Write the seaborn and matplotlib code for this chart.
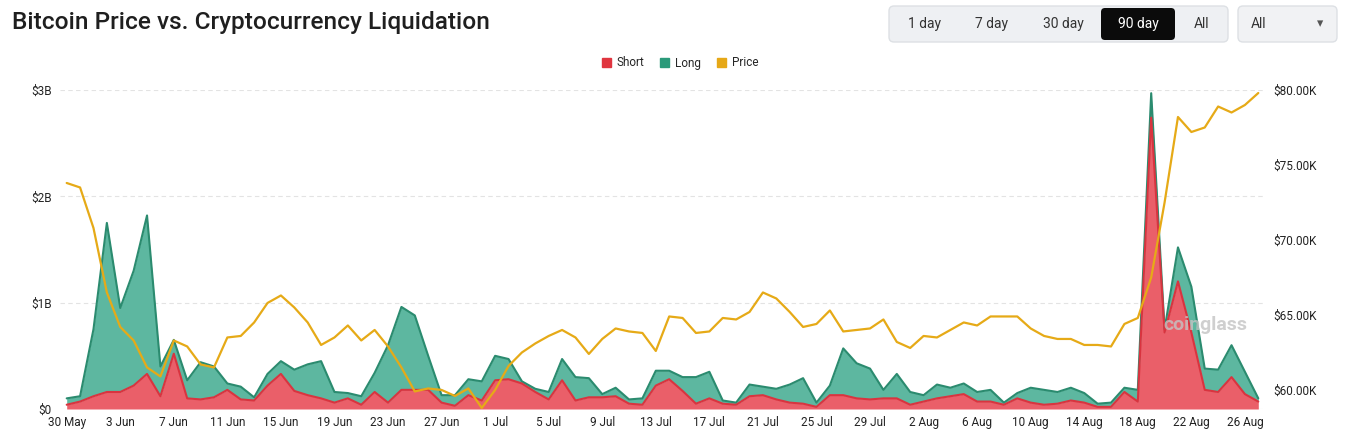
import numpy as np
import pandas as pd
import seaborn as sns
import matplotlib.pyplot as plt
from matplotlib.patches import FancyBboxPatch, Patch
from matplotlib.transforms import IdentityTransform

# daily values, 30 May -> 27 Aug
short_b = [0.04, 0.07, 0.12, 0.16, 0.16, 0.22, 0.33, 0.12, 0.52, 0.10,
           0.09, 0.11, 0.18, 0.09, 0.08, 0.22, 0.33, 0.17, 0.13, 0.10,
           0.06, 0.10, 0.04, 0.16, 0.06, 0.18, 0.18, 0.18, 0.06, 0.03,
           0.13, 0.08, 0.27, 0.28, 0.24, 0.16, 0.09, 0.27, 0.08, 0.11,
           0.11, 0.12, 0.05, 0.04, 0.22, 0.28, 0.17, 0.05, 0.10, 0.05,
           0.04, 0.12, 0.13, 0.09, 0.06, 0.05, 0.02, 0.13, 0.13, 0.10,
           0.09, 0.10, 0.10, 0.04, 0.07, 0.10, 0.12, 0.14, 0.07, 0.07,
           0.04, 0.10, 0.06, 0.04, 0.05, 0.08, 0.06, 0.02, 0.02, 0.16,
           0.07, 2.74, 0.72, 1.20, 0.72, 0.18, 0.16, 0.30, 0.14, 0.07]
long_b = [0.06, 0.05, 0.63, 1.59, 0.79, 1.08, 1.49, 0.28, 0.13, 0.17,
          0.35, 0.29, 0.06, 0.12, 0.03, 0.11, 0.12, 0.20, 0.29, 0.35,
          0.10, 0.05, 0.08, 0.18, 0.54, 0.78, 0.70, 0.32, 0.07, 0.10,
          0.15, 0.18, 0.23, 0.19, 0.02, 0.03, 0.07, 0.20, 0.22, 0.18,
          0.03, 0.08, 0.04, 0.06, 0.14, 0.08, 0.13, 0.25, 0.25, 0.03,
          0.02, 0.11, 0.08, 0.10, 0.17, 0.24, 0.04, 0.09, 0.44, 0.33,
          0.29, 0.08, 0.23, 0.12, 0.06, 0.13, 0.08, 0.10, 0.09, 0.11,
          0.02, 0.05, 0.14, 0.14, 0.11, 0.12, 0.09, 0.03, 0.04, 0.04,
          0.11, 0.23, 0.03, 0.32, 0.43, 0.20, 0.21, 0.30, 0.21, 0.03]
price_k = [73.8, 73.5, 70.8, 66.5, 64.2, 63.3, 61.5, 60.9, 63.3, 62.9,
           61.7, 61.5, 63.5, 63.6, 64.5, 65.8, 66.3, 65.5, 64.5, 63.0,
           63.5, 64.3, 63.3, 64.0, 62.9, 61.5, 59.9, 60.1, 60.0, 59.6,
           60.1, 58.8, 60.0, 61.6, 62.5, 63.1, 63.6, 64.0, 63.5, 62.4,
           63.4, 64.1, 63.9, 63.8, 62.6, 64.9, 64.8, 63.8, 63.9, 64.8,
           64.7, 65.2, 66.5, 66.1, 65.2, 64.2, 64.4, 65.3, 63.9, 64.0,
           64.1, 64.7, 63.2, 62.8, 63.6, 63.5, 64.0, 64.5, 64.3, 64.9,
           64.9, 64.9, 64.1, 63.6, 63.4, 63.4, 63.0, 63.0, 62.9, 64.4,
           64.8, 67.5, 72.5, 78.2, 77.2, 77.5, 78.9, 78.5, 79.0, 79.8]
date_labels = ['30 May', '3 Jun', '7 Jun', '11 Jun', '15 Jun', '19 Jun', '23 Jun',
               '27 Jun', '1 Jul', '5 Jul', '9 Jul', '13 Jul', '17 Jul', '21 Jul',
               '25 Jul', '29 Jul', '2 Aug', '6 Aug', '10 Aug', '14 Aug', '18 Aug',
               '22 Aug', '26 Aug']

df = pd.DataFrame({'day': np.arange(len(price_k)), 'short': short_b,
                   'long': long_b, 'price': price_k})
df['total'] = df['short'] + df['long']

sns.set_theme(style='white')
plt.rcParams['font.family'] = ['Roboto', 'DejaVu Sans']

W, H = 1345, 433
fig = plt.figure(figsize=(W / 100, H / 100), dpi=100)
ax = fig.add_axes([60 / W, 1 - 409 / H, (1265 - 60) / W, (409 - 90) / H])

ax.fill_between(df['day'], 0, df['short'], color='#ea5f69', lw=0, zorder=2)
ax.fill_between(df['day'], df['short'], df['total'], color='#5db7a0', lw=0, zorder=2)
sns.lineplot(data=df, x='day', y='total', color='#2b8b6f', lw=1.5, ax=ax, zorder=3)
sns.lineplot(data=df, x='day', y='short', color='#d9343f', lw=1.5, ax=ax, zorder=3)
for ln in ax.get_lines():
    ln.set_solid_joinstyle('round')

ax.set_xlim(-0.5, 89.5)
ax.set_ylim(0, 3)
ax.set_yticks([0, 1, 2, 3])
ax.set_yticklabels(['$0', '$1B', '$2B', '$3B'])
ax.set_xticks(np.arange(0, 89, 4))
ax.set_xticklabels(date_labels)
ax.set_xlabel('')
ax.set_ylabel('')
ax.grid(axis='y', color='#e3e3e3', ls=(0, (4, 3)), lw=0.8, zorder=0)
ax.tick_params(axis='both', length=0, labelsize=8.5, colors='#222222')
ax.tick_params(axis='y', pad=6)
ax.tick_params(axis='x', pad=5)
for s in ax.spines.values():
    s.set_visible(False)

ax2 = ax.twinx()
sns.lineplot(data=df, x='day', y='price', color='#e6aa17', lw=1.6, ax=ax2, zorder=4)
for ln in ax2.get_lines():
    ln.set_solid_joinstyle('round')
ax2.set_ylim(58.73, 80)
ax2.set_yticks([60, 65, 70, 75, 80])
ax2.set_yticklabels(['$60.00K', '$65.00K', '$70.00K', '$75.00K', '$80.00K'])
ax2.set_ylabel('')
ax2.tick_params(axis='y', length=0, labelsize=8.5, colors='#222222', pad=6)
for s in ax2.spines.values():
    s.set_visible(False)

# watermark
fig.text(1163 / W, 1 - 325 / H, 'coinglass', fontsize=14, fontweight='bold',
         color='#c4c4c4', alpha=0.8, va='center', ha='left', zorder=10)

# legend
handles = [Patch(color='#e0353f', label='Short'),
           Patch(color='#2a9a7a', label='Long'),
           Patch(color='#e6a817', label='Price')]
fig.legend(handles=handles, loc='center', bbox_to_anchor=(680 / W, 1 - 63 / H), ncol=3,
           frameon=False, handlelength=0.8, handleheight=0.8, handletextpad=0.5,
           columnspacing=1.3, fontsize=8.5)

# title
fig.text(12 / W, 1 - 22 / H, 'Bitcoin Price vs. Cryptocurrency Liquidation',
         fontsize=17.6, fontweight='medium', color='#1f1f1f', va='center', ha='left')

# range buttons
tr = IdentityTransform()
fig.patches.append(FancyBboxPatch((889, H - 42), 339, 36, boxstyle='round,pad=0,rounding_size=5',
                                  transform=tr, fc='#eef0f3', ec='#dde0e4', lw=1))
fig.patches.append(FancyBboxPatch((1101, H - 40), 74, 32, boxstyle='round,pad=0,rounding_size=4',
                                  transform=tr, fc='#0b0b0b', ec='none'))
fig.patches.append(FancyBboxPatch((1238, H - 42), 99, 36, boxstyle='round,pad=0,rounding_size=5',
                                  transform=tr, fc='#f1f2f4', ec='#dde0e4', lw=1))
for label, cx in [('1 day', 925), ('7 day', 992), ('30 day', 1063), ('All', 1201)]:
    fig.text(cx / W, 1 - 24 / H, label, fontsize=10, color='#333333', ha='center', va='center')
fig.text(1138 / W, 1 - 24 / H, '90 day', fontsize=10, color='white', ha='center', va='center')
fig.text(1251 / W, 1 - 24 / H, 'All', fontsize=10, color='#333333', ha='left', va='center')
fig.text(1320 / W, 1 - 24 / H, '▾', fontsize=9, color='#555555', ha='center', va='center')

fig.savefig('out.png', dpi=100)
